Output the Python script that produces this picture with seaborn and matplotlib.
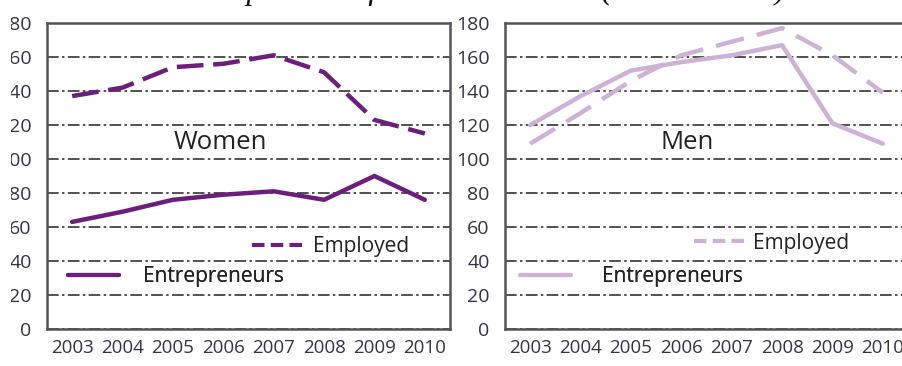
import matplotlib
matplotlib.use("Agg")
import matplotlib.pyplot as plt
import seaborn as sns
import pandas as pd
from matplotlib.transforms import Bbox, TransformedBbox
from matplotlib.lines import Line2D

years = ["2003", "2004", "2005", "2006", "2007", "2008", "2009", "2010"]
women_employed = [137, 142, 154, 156, 161, 151, 123, 115]
women_entrepreneurs = [63, 69, 76, 79, 81, 76, 90, 76]
men_employed = [109, 127, 146, 161, 169, 177, 161, 139]
men_entrepreneurs = [120, 137, 152, 157, 161, 167, 121, 109]
yticks = [0, 20, 40, 60, 80, 100, 120, 140, 160, 180]
title_text = "Comparison of women and men (in thousands)"

women_color = "#6a1f7a"
men_color = "#cdb2d6"
grid_color = "#333333"
spine_color = "#555555"
text_color = "#333344"

sns.set_style("white")
plt.rcParams["font.family"] = ["Open Sans", "DejaVu Sans"]

W, H = 902, 366
fig = plt.figure(figsize=(W / 100, H / 100), dpi=100)
ax_w = fig.add_axes([47 / W, 37 / H, 403 / W, 306 / H])
ax_m = fig.add_axes([505 / W, 37 / H, 403 / W, 306 / H])

panels = [
    (ax_w, women_employed, women_entrepreneurs, women_color, "Women", (6, 2.2), 0.43),
    (ax_m, men_employed, men_entrepreneurs, men_color, "Men", (6.5, 3), 0.452),
]

for ax, emp, ent, col, name, dash, tx in panels:
    df = pd.DataFrame({"year": years, "Employed": emp, "Entrepreneurs": ent})
    sns.lineplot(data=df, x="year", y="Employed", ax=ax, color=col, lw=3.2,
                 sort=False)
    ax.lines[-1].set_dashes(dash)
    sns.lineplot(data=df, x="year", y="Entrepreneurs", ax=ax, color=col, lw=3.2,
                 sort=False)
    ax.set_xlim(-0.5, len(years) - 0.5)
    ax.set_ylim(0, 180)
    ax.set_yticks(yticks)
    ax.set_xticks(range(len(years)))
    ax.set_xticklabels(years)
    ax.set_xticks([i - 0.5 for i in range(len(years) + 1)], minor=True)
    ax.tick_params(axis="x", which="major", length=0, pad=7, labelsize=13.5,
                   labelcolor=text_color)
    ax.tick_params(axis="x", which="minor", length=5, width=1.2,
                   color=spine_color, direction="out")
    ax.tick_params(axis="y", length=0, pad=11, labelsize=14, labelcolor=text_color)
    ax.set_xlabel("")
    ax.set_ylabel("")
    ax.yaxis.grid(True, color=grid_color, lw=1.2, linestyle=(0, (7, 2, 1.5, 2)))
    ax.xaxis.grid(False)
    for s in ax.spines.values():
        s.set_visible(True)
        s.set_color(spine_color)
        s.set_linewidth(1.8)
    ax.text(tx, 0.611, name, transform=ax.transAxes, ha="center", va="center",
            fontsize=18.5, color="#222222")

# legends
def add_legend(ax, handle, label, x, y, textpad):
    leg = ax.legend([handle], [label], loc="center left", bbox_to_anchor=(x, y),
                    frameon=False, fontsize=15, handlelength=2.45,
                    handletextpad=textpad, borderpad=0, borderaxespad=0,
                    labelcolor="#222222")
    ax.add_artist(leg)

hw_emp = Line2D([], [], color=women_color, lw=3, dashes=(3, 1.5))
hw_ent = Line2D([], [], color=women_color, lw=3)
add_legend(ax_w, hw_emp, "Employed", 0.509, 0.268, 0.45)
add_legend(ax_w, hw_ent, "Entrepreneurs", 0.052, 0.170, 1.15)
hm_emp = Line2D([], [], color=men_color, lw=3, dashes=(3, 1.5))
hm_ent = Line2D([], [], color=men_color, lw=3)
add_legend(ax_m, hm_emp, "Employed", 0.469, 0.281, 0.4)
add_legend(ax_m, hm_ent, "Entrepreneurs", 0.037, 0.170, 1.5)

# cut-off title at the top edge
fig.text(186 / W, 1 + 1 / H, title_text, ha="left", va="baseline",
         fontsize=23, style="italic", family=["Liberation Serif"], color="#111111")

# left panel tick labels appear cropped at the image edge
clip = TransformedBbox(Bbox.from_extents(11 / W, 0, 1, 1), fig.transFigure)
for lbl in ax_w.get_yticklabels():
    lbl.set_clip_box(clip)
    lbl.set_clip_on(True)

fig.savefig("out.png", dpi=100)
